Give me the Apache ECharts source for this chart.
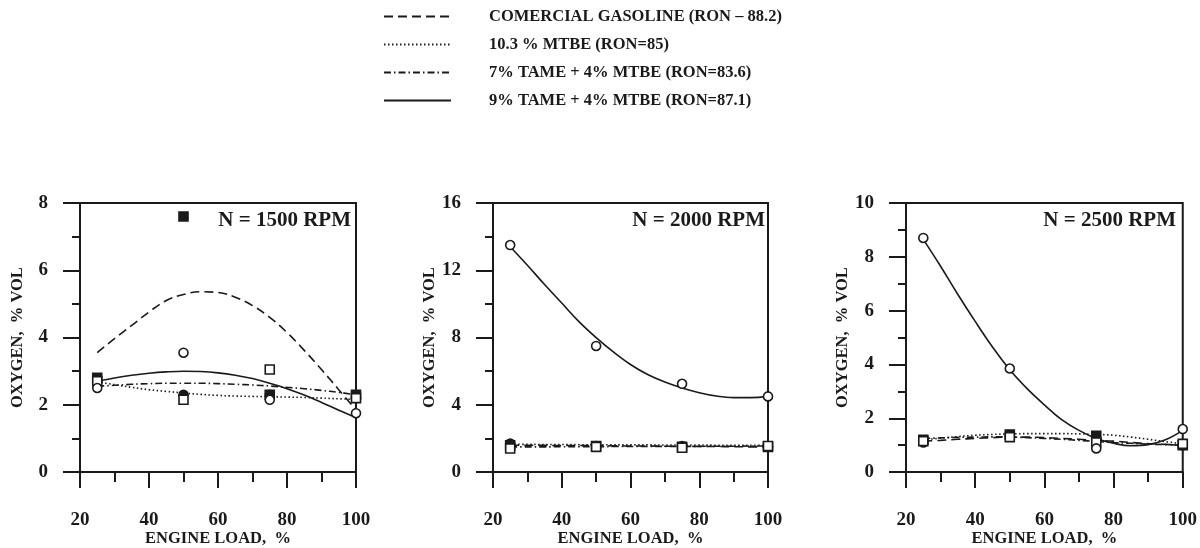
<!DOCTYPE html>
<html>
<head>
<meta charset="utf-8">
<script src="https://cdn.jsdelivr.net/npm/echarts@6/dist/echarts.min.js"></script>
<style>
html,body{margin:0;padding:0;background:#fff;}
#c{width:1200px;height:548px;}
</style>
</head>
<body>
<div id="c"></div>
<script>
// ---- data ----
const seriesNames = [
  'COMERCIAL GASOLINE (RON – 88.2)',
  '10.3 % MTBE (RON=85)',
  '7% TAME + 4% MTBE (RON=83.6)',
  '9% TAME + 4% MTBE (RON=87.1)'
];
const panelTitles = ['N = 1500 RPM', 'N = 2000 RPM', 'N = 2500 RPM'];
const pointLoads = [25, 50, 75, 100];
const curveLoads = [25, 30, 35, 40, 45, 50, 55, 60, 65, 70, 75, 80, 85, 90, 95, 100];
const yMax = [8, 16, 10];
const yStep = [2, 4, 2];

// N = 1500 RPM
const pts1500_gas   = [2.8, 7.6, 2.3, 2.3];
const pts1500_mtbe  = [2.7, 2.3, 2.3, 2.2];
const pts1500_tame7 = [2.7, 2.15, 3.05, 2.2];
const pts1500_tame9 = [2.5, 3.55, 2.15, 1.75];
const fit1500_gas   = [3.55, 3.97, 4.36, 4.76, 5.1, 5.28, 5.36, 5.34, 5.2, 4.95, 4.6, 4.15, 3.62, 3.05, 2.45, 1.85];
const fit1500_mtbe  = [2.68, 2.6, 2.52, 2.45, 2.4, 2.35, 2.31, 2.28, 2.26, 2.25, 2.24, 2.23, 2.22, 2.2, 2.18, 2.16];
const fit1500_tame7 = [2.55, 2.58, 2.61, 2.63, 2.64, 2.64, 2.64, 2.63, 2.61, 2.59, 2.56, 2.52, 2.48, 2.43, 2.37, 2.3];
const fit1500_tame9 = [2.7, 2.8, 2.88, 2.94, 2.98, 3.0, 2.99, 2.95, 2.88, 2.78, 2.64, 2.48, 2.29, 2.07, 1.84, 1.62];

// N = 2000 RPM
const pts2000_gas   = [1.6, 1.55, 1.5, 1.5];
const pts2000_mtbe  = [1.7, 1.55, 1.55, 1.5];
const pts2000_tame7 = [1.4, 1.5, 1.45, 1.55];
const pts2000_tame9 = [13.5, 7.5, 5.25, 4.5];
const fit2000_gas   = [1.6, 1.6, 1.59, 1.58, 1.58, 1.57, 1.56, 1.55, 1.55, 1.54, 1.53, 1.53, 1.52, 1.51, 1.5, 1.5];
const fit2000_mtbe  = [1.65, 1.65, 1.64, 1.64, 1.63, 1.63, 1.62, 1.62, 1.62, 1.61, 1.61, 1.61, 1.6, 1.6, 1.6, 1.6];
const fit2000_tame7 = [1.5, 1.5, 1.5, 1.51, 1.51, 1.51, 1.52, 1.52, 1.52, 1.53, 1.53, 1.53, 1.54, 1.54, 1.55, 1.55];
const fit2000_tame9 = [13.4, 12.3, 11.15, 10.05, 8.95, 8.0, 7.15, 6.4, 5.8, 5.35, 5.0, 4.72, 4.52, 4.43, 4.43, 4.5];

// N = 2500 RPM
const pts2500_gas   = [1.2, 1.4, 1.35, 1.0];
const pts2500_mtbe  = [1.1, 1.35, 1.25, 1.0];
const pts2500_tame7 = [1.15, 1.3, 1.1, 1.05];
const pts2500_tame9 = [8.7, 3.85, 0.88, 1.6];
const fit2500_gas   = [1.15, 1.18, 1.22, 1.25, 1.28, 1.3, 1.3, 1.28, 1.25, 1.22, 1.18, 1.15, 1.1, 1.06, 1.03, 1.0];
const fit2500_mtbe  = [1.2, 1.26, 1.32, 1.37, 1.4, 1.42, 1.43, 1.43, 1.43, 1.42, 1.4, 1.37, 1.3, 1.22, 1.13, 1.05];
const fit2500_tame7 = [1.25, 1.27, 1.29, 1.3, 1.31, 1.3, 1.28, 1.25, 1.22, 1.18, 1.14, 1.1, 1.07, 1.04, 1.02, 1.0];
const fit2500_tame9 = [8.65, 7.65, 6.6, 5.6, 4.65, 3.8, 3.1, 2.5, 1.95, 1.55, 1.25, 1.07, 0.98, 1.02, 1.2, 1.55];

// ---- build ----
const INK = '#1a1a1a';
const SERIF = '"Liberation Serif", "DejaVu Serif", serif';
const points = [
  [pts1500_gas, pts1500_mtbe, pts1500_tame7, pts1500_tame9],
  [pts2000_gas, pts2000_mtbe, pts2000_tame7, pts2000_tame9],
  [pts2500_gas, pts2500_mtbe, pts2500_tame7, pts2500_tame9]
];
const fits = [
  [fit1500_gas, fit1500_mtbe, fit1500_tame7, fit1500_tame9],
  [fit2000_gas, fit2000_mtbe, fit2000_tame7, fit2000_tame9],
  [fit2500_gas, fit2500_mtbe, fit2500_tame7, fit2500_tame9]
];
const lineTypes = [[9, 5], [1.5, 2.5], [7, 3, 1.5, 3], 'solid'];
const symbols = ['rect', 'circle', 'rect', 'circle'];
const filled = [true, true, false, false];

const grids = [
  {left: 80, top: 203, width: 276, height: 270},
  {left: 493, top: 203, width: 275, height: 271},
  {left: 906, top: 203, width: 277, height: 270}
];
const titleRight = [849, 435, 24];

const xAxes = [], yAxes = [], series = [], titles = [];
grids.forEach((g, i) => {
  g.show = true; g.borderColor = INK; g.borderWidth = 2; g.backgroundColor = 'transparent';
  xAxes.push({
    gridIndex: i, type: 'value', min: 20, max: 100, interval: 20,
    name: 'ENGINE LOAD,  %', nameLocation: 'middle', nameGap: 56,
    nameTextStyle: {fontFamily: SERIF, fontSize: 16.5, fontWeight: 'bold', color: INK},
    axisLine: {show: true, lineStyle: {color: INK, width: 2}},
    axisTick: {show: true, inside: false, length: 16, lineStyle: {color: INK, width: 2}},
    minorTick: {show: true, splitNumber: 2, length: 10, lineStyle: {color: INK, width: 2}},
    axisLabel: {fontFamily: SERIF, fontSize: 19, fontWeight: 'bold', color: INK, margin: 38},
    splitLine: {show: false}
  });
  yAxes.push({
    gridIndex: i, type: 'value', min: 0, max: yMax[i], interval: yStep[i],
    name: 'OXYGEN,  % VOL', nameLocation: 'middle', nameGap: 54,
    nameTextStyle: {fontFamily: SERIF, fontSize: 16.5, fontWeight: 'bold', color: INK},
    axisLine: {show: true, lineStyle: {color: INK, width: 2}},
    axisTick: {show: true, inside: false, length: 17, lineStyle: {color: INK, width: 2}},
    minorTick: {show: true, splitNumber: 2, length: 8, lineStyle: {color: INK, width: 2}},
    axisLabel: {fontFamily: SERIF, fontSize: 19, fontWeight: 'bold', color: INK, margin: 32},
    splitLine: {show: false}
  });
  titles.push({
    text: panelTitles[i], right: titleRight[i], top: 210, padding: 0,
    textStyle: {fontFamily: SERIF, fontSize: 21, fontWeight: 'bold', color: INK}
  });
  for (let s = 0; s < 4; s++) {
    series.push({
      name: seriesNames[s], type: 'line', xAxisIndex: i, yAxisIndex: i,
      data: curveLoads.map((x, k) => [x, fits[i][s][k]]),
      smooth: 0.4, symbol: 'none', silent: true,
      lineStyle: {color: INK, width: 1.6, type: lineTypes[s]},
      itemStyle: {color: INK},
      z: 3
    });
  }
  for (let s = 0; s < 4; s++) {
    series.push({
      name: 'pts-' + i + '-' + s, type: 'scatter', xAxisIndex: i, yAxisIndex: i,
      data: pointLoads.map((x, k) => [x, points[i][s][k]]),
      symbol: symbols[s], symbolSize: 9,
      itemStyle: {color: filled[s] ? INK : '#fff', borderColor: INK, borderWidth: 1.6, opacity: 1},
      z: 4
    });
  }
});

const chart = echarts.init(document.getElementById('c'), null, {renderer: 'canvas'});
chart.setOption({
  backgroundColor: '#fff',
  animation: false,
  title: titles,
  legend: {
    data: seriesNames, orient: 'vertical', left: 383, top: 8, padding: 0,
    itemWidth: 67, itemHeight: 14, itemGap: 11,
    selectedMode: false,
    itemStyle: {color: 'rgba(0,0,0,0)', borderColor: 'rgba(0,0,0,0)', borderWidth: 0, opacity: 0},
    textStyle: {fontFamily: SERIF, fontSize: 16.5, fontWeight: 'bold', color: INK, padding: [0, 0, 0, 33]}
  },
  grid: grids,
  xAxis: xAxes,
  yAxis: yAxes,
  series: series
});
</script>
</body>
</html>
